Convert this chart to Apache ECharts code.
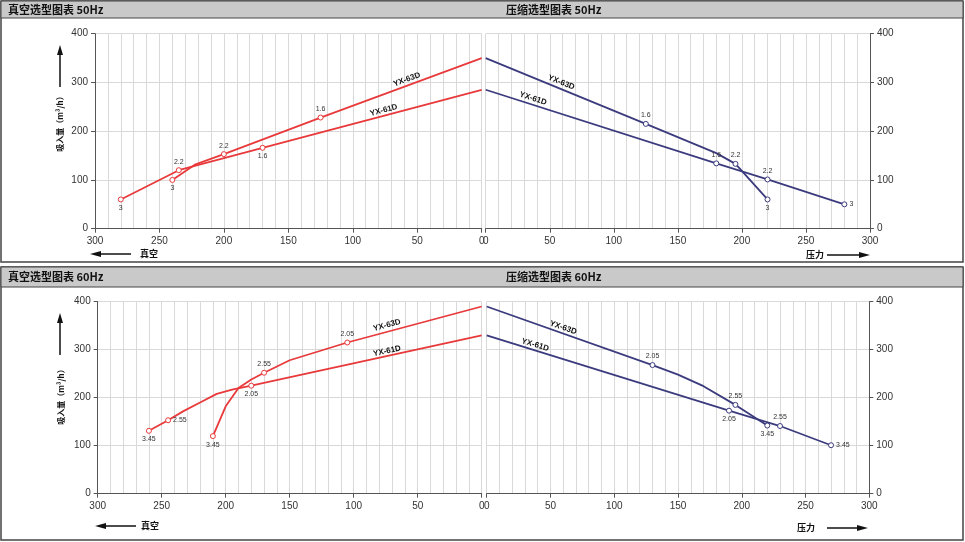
<!DOCTYPE html>
<html>
<head>
<meta charset="utf-8">
<script src="https://cdn.jsdelivr.net/npm/echarts@6/dist/echarts.min.js"></script>
<style>
html,body{margin:0;padding:0;background:#fff;}
#chart{width:965px;height:542px;}
</style>
</head>
<body>
<div id="chart"></div>
<script>
// ---- data ----
const xTicks = [0, 50, 100, 150, 200, 250, 300];
const yTicks = [0, 100, 200, 300, 400];

// 真空 50Hz
const vac50_63D_x = [0, 125, 200, 222, 240];
const vac50_63D_y = [350, 228, 153, 132, 100];
const vac50_63D_tag = ['', '1.6', '2.2', '', '3'];
const vac50_61D_x = [0, 170, 235, 280];
const vac50_61D_y = [285, 166, 120, 60];
const vac50_61D_tag = ['', '1.6', '2.2', '3'];

// 压缩 50Hz
const pre50_63D_x = [0, 125, 180, 195, 220];
const pre50_63D_y = [350, 215, 155, 133, 60];
const pre50_63D_tag = ['', '1.6', '', '2.2', '3'];
const pre50_61D_x = [0, 180, 220, 280];
const pre50_61D_y = [285, 134, 101, 50];
const pre50_61D_tag = ['', '1.6', '2.2', '3'];

// 真空 60Hz
const vac60_63D_x = [0, 105, 150, 170, 180, 190, 200, 210];
const vac60_63D_y = [390, 315, 278, 252, 238, 220, 182, 120];
const vac60_63D_tag = ['', '2.05', '', '2.55', '', '', '', '3.45'];
const vac60_61D_x = [0, 180, 195, 207, 220, 233, 245, 260];
const vac60_61D_y = [330, 225, 217, 208, 190, 172, 153, 131];
const vac60_61D_tag = ['', '2.05', '', '', '', '', '2.55', '3.45'];

// 压缩 60Hz
const pre60_63D_x = [0, 130, 150, 170, 195, 220];
const pre60_63D_y = [390, 268, 248, 224, 185, 142];
const pre60_63D_tag = ['', '2.05', '', '', '2.55', '3.45'];
const pre60_61D_x = [0, 190, 230, 270];
const pre60_61D_y = [330, 173, 141, 101];
const pre60_61D_tag = ['', '2.05', '2.55', '3.45'];

const titles = ['真空选型图表 50Hz', '压缩选型图表 50Hz', '真空选型图表 60Hz', '压缩选型图表 60Hz'];
const yName = '吸入量（m³/h）';
const vacName = '真空';
const preName = '压力';

// ---- styles ----
const RED = '#e8393b';
const NAVY = '#3b3b7e';
const GRIDC = '#d9d9d9';
const AXC = '#555';
const FONT = '"Liberation Sans", Arial, sans-serif';
const CJK = '"Noto Sans CJK SC", sans-serif';

const grids = [
  {left: 95, width: 386.7, top: 33.7, height: 195},
  {left: 485.7, width: 384.3, top: 33.7, height: 195},
  {left: 97.7, width: 384, top: 301.7, height: 192},
  {left: 486.7, width: 382.6, top: 301.7, height: 192}
];

function xAx(i, inverse) {
  return {
    type: 'value', gridIndex: i, min: 0, max: 300, interval: 50, inverse: inverse,
    axisLine: {show: true, onZero: false, lineStyle: {color: AXC, width: 1}},
    axisTick: {show: true, length: 4, lineStyle: {color: AXC}},
    axisLabel: {color: '#333', fontSize: 10, fontFamily: FONT, margin: 8},
    splitLine: {show: true, lineStyle: {color: GRIDC, width: 1}},
    minorTick: {show: false, splitNumber: 5},
    minorSplitLine: {show: true, lineStyle: {color: GRIDC, width: 1}}
  };
}
function yAx(i, pos) {
  return {
    type: 'value', gridIndex: i, min: 0, max: 400, interval: 100, position: pos,
    axisLine: {show: true, onZero: false, lineStyle: {color: AXC, width: 1}},
    axisTick: {show: true, length: 4, lineStyle: {color: AXC}},
    axisLabel: {color: '#333', fontSize: 10, fontFamily: FONT, margin: 7},
    splitLine: {show: true, lineStyle: {color: GRIDC, width: 1}}
  };
}

function mk(xs, ys, tags, gi, color, places, nameLabel) {
  let k = 0;
  const data = xs.map((x, i) => {
    const t = tags[i];
    if (!t) return {value: [x, ys[i]], symbol: 'none'};
    const p = places[k++];
    return {
      value: [x, ys[i]], symbol: 'circle', symbolSize: 5,
      itemStyle: {color: '#fff', borderColor: color, borderWidth: 1, opacity: 1},
      label: {show: true, formatter: t, position: p, distance: 2, color: '#333', fontSize: 7, fontFamily: FONT}
    };
  });
  return {
    type: 'line', xAxisIndex: gi, yAxisIndex: gi, data: data,
    smooth: false,
    showSymbol: true, symbol: 'circle',
    lineStyle: {color: color, width: 1.8},
    itemStyle: {color: color},
    emphasis: {disabled: true},
    silent: true, animation: false,
    markPoint: {
      symbol: 'circle', symbolSize: 0, silent: true, animation: false,
      label: {show: true, position: 'inside', color: '#111', fontSize: 8, fontWeight: 'bold', fontFamily: FONT,
        formatter: nameLabel.text, rotate: nameLabel.rot},
      data: [{coord: nameLabel.at}]
    }
  };
}

const series = [
  mk(vac50_63D_x, vac50_63D_y, vac50_63D_tag, 0, RED, ['top', 'top', 'bottom'], {text: 'YX-63D', rot: 20, at: [58, 306]}),
  mk(vac50_61D_x, vac50_61D_y, vac50_61D_tag, 0, RED, ['bottom', 'top', 'bottom'], {text: 'YX-61D', rot: 15, at: [76, 243]}),
  mk(pre50_63D_x, pre50_63D_y, pre50_63D_tag, 1, NAVY, ['top', 'top', 'bottom'], {text: 'YX-63D', rot: -22, at: [59, 300]}),
  mk(pre50_61D_x, pre50_61D_y, pre50_61D_tag, 1, NAVY, ['top', 'top', 'right'], {text: 'YX-61D', rot: -18, at: [37, 267]}),
  mk(vac60_63D_x, vac60_63D_y, vac60_63D_tag, 2, RED, ['top', 'top', 'bottom'], {text: 'YX-63D', rot: 15, at: [74, 351]}),
  mk(vac60_61D_x, vac60_61D_y, vac60_61D_tag, 2, RED, ['bottom', 'right', 'bottom'], {text: 'YX-61D', rot: 12, at: [74, 297]}),
  mk(pre60_63D_x, pre60_63D_y, pre60_63D_tag, 3, NAVY, ['top', 'top', 'bottom'], {text: 'YX-63D', rot: -19, at: [60, 346]}),
  mk(pre60_61D_x, pre60_61D_y, pre60_61D_tag, 3, NAVY, ['bottom', 'top', 'right'], {text: 'YX-61D', rot: -17, at: [38, 310]})
];

// ---- decorations ----
function vArrow(x, y1, y2) {
  return [
    {type: 'line', shape: {x1: x, y1: y1 + 8, x2: x, y2: y2}, style: {stroke: '#111', lineWidth: 1.5}},
    {type: 'polygon', shape: {points: [[x, y1], [x - 3, y1 + 10], [x + 3, y1 + 10]]}, style: {fill: '#111'}}
  ];
}
function hArrow(x1, x2, y, dir) {
  if (dir < 0) return [
    {type: 'line', shape: {x1: x1 + 8, y1: y, x2: x2, y2: y}, style: {stroke: '#111', lineWidth: 1.5}},
    {type: 'polygon', shape: {points: [[x1, y], [x1 + 11, y - 3], [x1 + 11, y + 3]]}, style: {fill: '#111'}}
  ];
  return [
    {type: 'line', shape: {x1: x1, y1: y, x2: x2 - 8, y2: y}, style: {stroke: '#111', lineWidth: 1.5}},
    {type: 'polygon', shape: {points: [[x2, y], [x2 - 11, y - 3], [x2 - 11, y + 3]]}, style: {fill: '#111'}}
  ];
}
function txt(x, y, s, opts) {
  return {type: 'text', x: x, y: y, style: Object.assign({text: s, fill: '#111', font: 'bold 11px ' + CJK, textAlign: 'left', textVerticalAlign: 'middle'}, opts || {})};
}

const graphic = [
  {type: 'rect', shape: {x: 1, y: 1, width: 962, height: 261}, style: {fill: 'none', stroke: '#444', lineWidth: 1.5}},
  {type: 'rect', shape: {x: 1, y: 1, width: 962, height: 17}, style: {fill: '#c9c9c9', stroke: '#444', lineWidth: 1}},
  {type: 'rect', shape: {x: 1, y: 267, width: 962, height: 273}, style: {fill: 'none', stroke: '#444', lineWidth: 1.5}},
  {type: 'rect', shape: {x: 1, y: 267, width: 962, height: 20}, style: {fill: '#c9c9c9', stroke: '#444', lineWidth: 1}},
  txt(8, 10, titles[0]),
  txt(506, 10, titles[1]),
  txt(8, 277, titles[2]),
  txt(506, 277, titles[3]),
  Object.assign(txt(60, 122, yName, {font: 'bold 8px ' + CJK, textAlign: 'center'}), {rotation: Math.PI / 2}),
  Object.assign(txt(61, 395, yName, {font: 'bold 8px ' + CJK, textAlign: 'center'}), {rotation: Math.PI / 2}),
  ...vArrow(60, 45, 87),
  ...vArrow(60, 313, 355),
  ...hArrow(90, 131, 254, -1),
  txt(140, 254, vacName, {font: 'bold 9px ' + CJK}),
  ...hArrow(95, 136, 526, -1),
  txt(141, 526, vacName, {font: 'bold 9px ' + CJK}),
  txt(806, 255, preName, {font: 'bold 9px ' + CJK}),
  ...hArrow(827, 870, 255, 1),
  txt(797, 528, preName, {font: 'bold 9px ' + CJK}),
  ...hArrow(827, 868, 528, 1)
];

const option = {
  backgroundColor: '#fff',
  animation: false,
  grid: grids,
  xAxis: [xAx(0, true), xAx(1, false), xAx(2, true), xAx(3, false)],
  yAxis: [yAx(0, 'left'), yAx(1, 'right'), yAx(2, 'left'), yAx(3, 'right')],
  series: series,
  graphic: graphic
};

const chart = echarts.init(document.getElementById('chart'), null, {renderer: 'canvas'});
chart.setOption(option);
</script>
</body>
</html>
